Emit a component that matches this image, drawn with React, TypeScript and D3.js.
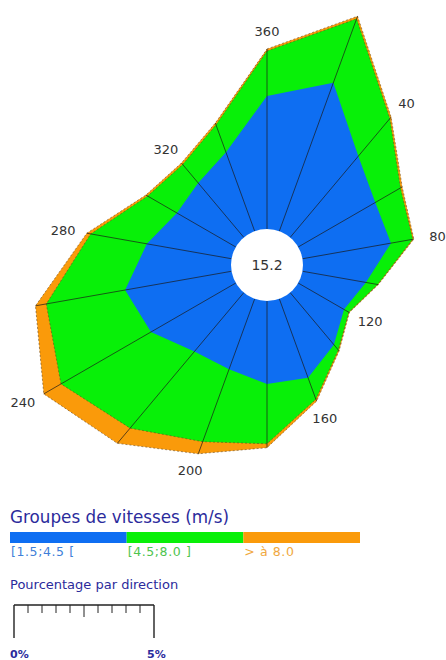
import React from 'react'
import * as d3 from 'd3'

// wind directions (degrees, every 20°)
const directions = [0, 20, 40, 60, 80, 100, 120, 140, 160, 180, 200, 220, 240, 260, 280, 300, 320, 340]
// percentages per speed group
const blueVals = [4.75, 5.64, 3.79, 3.18, 3.21, 2.3, 1.89, 2.43, 3.0, 2.96, 2.68, 2.75, 3.5, 3.86, 3.07, 2.43, 2.54, 3.0]
const greenVals = [1.61, 2.43, 1.75, 1.04, 0.79, 0.43, 0.2, 0.25, 0.82, 2.14, 2.75, 3.57, 3.71, 2.86, 2.04, 1.21, 0.86, 1.04]
const orangeVals = [0.07, 0.1, 0.07, 0.07, 0.04, 0.02, 0.02, 0.04, 0.07, 0.14, 0.46, 0.71, 0.71, 0.39, 0.14, 0.07, 0.07, 0.07]
const labelDirs = [360, 40, 80, 120, 160, 200, 240, 280, 320]
const calm = '15.2'

const groups = [
  { name: '[1.5;4.5 [', color: '#0e6ef2', text: '#3f7fd8' },
  { name: '[4.5;8.0 ]', color: '#08f008', text: '#4ec44e' },
  { name: '> à 8.0', color: '#fa9a0a', text: '#f0a840' }
]
const scaleTicks = d3.range(0, 5.01, 0.5)

const width = 446
const height = 660
const cx = 267
const cy = 265
const r0 = 36

export default function App() {
  const r = d3.scaleLinear().domain([0, 5]).range([r0, r0 + 140])
  const bar = d3.scaleLinear().domain([0, 5]).range([14, 154])
  const legend = d3.scaleBand().domain(groups.map(g => g.name)).range([10, 360])

  const cum1 = blueVals
  const cum2 = blueVals.map((v, i) => v + greenVals[i])
  const cum3 = cum2.map((v, i) => v + orangeVals[i])

  const rad = (deg: number) => (deg * Math.PI) / 180
  const line = d3
    .lineRadial<number>()
    .angle((d, i) => rad(directions[i]))
    .radius(d => r(d))
    .curve(d3.curveLinearClosed)

  const layers = [
    { vals: cum3, fill: groups[2].color, dashed: true },
    { vals: cum2, fill: groups[1].color, dashed: true },
    { vals: cum1, fill: groups[0].color, dashed: false }
  ]

  const navy = '#2b2b9c'

  return (
    <svg width={width} height={height} style={{ position: 'absolute', left: 0, top: 0, background: '#fff' }}>
      <g transform={`translate(${cx},${cy})`}>
        {layers.map((l, k) => (
          <path
            key={k}
            d={line(l.vals) || ''}
            fill={l.fill}
            stroke={l.dashed ? '#6a4a20' : 'none'}
            strokeWidth={0.6}
            strokeDasharray="2,2"
          />
        ))}
        {directions.map((dir, i) => {
          const a = rad(dir)
          const ro = r(cum3[i])
          return (
            <line
              key={dir}
              x1={r0 * Math.sin(a)}
              y1={-r0 * Math.cos(a)}
              x2={ro * Math.sin(a)}
              y2={-ro * Math.cos(a)}
              stroke="#1a1a1a"
              strokeWidth={0.7}
            />
          )
        })}
        <circle r={r0} fill="#fff" />
        <text textAnchor="middle" dy="0.35em" fontFamily="DejaVu Sans, sans-serif" fontSize={14} fill="#333">
          {calm}
        </text>
        {labelDirs.map(dir => {
          const i = directions.indexOf(dir % 360)
          const a = rad(dir)
          const ro = r(cum3[i])
          return (
            <text
              key={dir}
              x={ro * Math.sin(a) + 24 * Math.sin(a)}
              y={-ro * Math.cos(a) - 18 * Math.cos(a)}
              textAnchor="middle"
              dy="0.35em"
              fontFamily="DejaVu Sans, sans-serif"
              fontSize={13}
              fill="#333"
            >
              {dir}
            </text>
          )
        })}
      </g>

      <text x={10} y={523} fontFamily="DejaVu Sans, sans-serif" fontSize={16.8} fill={navy}>
        Groupes de vitesses (m/s)
      </text>
      {groups.map(g => (
        <g key={g.name}>
          <rect x={legend(g.name)} y={532} width={legend.bandwidth()} height={11} fill={g.color} />
          <text
            x={(legend(g.name) || 0) + 1}
            y={556}
            fontFamily="DejaVu Sans, sans-serif"
            fontSize={12.5}
            letterSpacing={0.6}
            fill={g.text}
          >
            {g.name}
          </text>
        </g>
      ))}

      <text x={10} y={589} fontFamily="DejaVu Sans, sans-serif" fontSize={13} fill={navy}>
        Pourcentage par direction
      </text>
      <line x1={bar(0)} x2={bar(5)} y1={605} y2={605} stroke="#222" strokeWidth={1.3} />
      {scaleTicks.map(t => {
        const end = t === 0 || t === 5
        const len = end ? 33 : t === 2.5 ? 12 : 8
        return <line key={t} x1={bar(t)} x2={bar(t)} y1={605} y2={605 + len} stroke="#222" strokeWidth={end ? 1.4 : 1} />
      })}
      <text x={10} y={658} fontFamily="DejaVu Sans, sans-serif" fontSize={11} fontWeight="bold" fill={navy}>
        0%
      </text>
      <text x={147} y={658} fontFamily="DejaVu Sans, sans-serif" fontSize={11} fontWeight="bold" fill={navy}>
        5%
      </text>
    </svg>
  )
}
